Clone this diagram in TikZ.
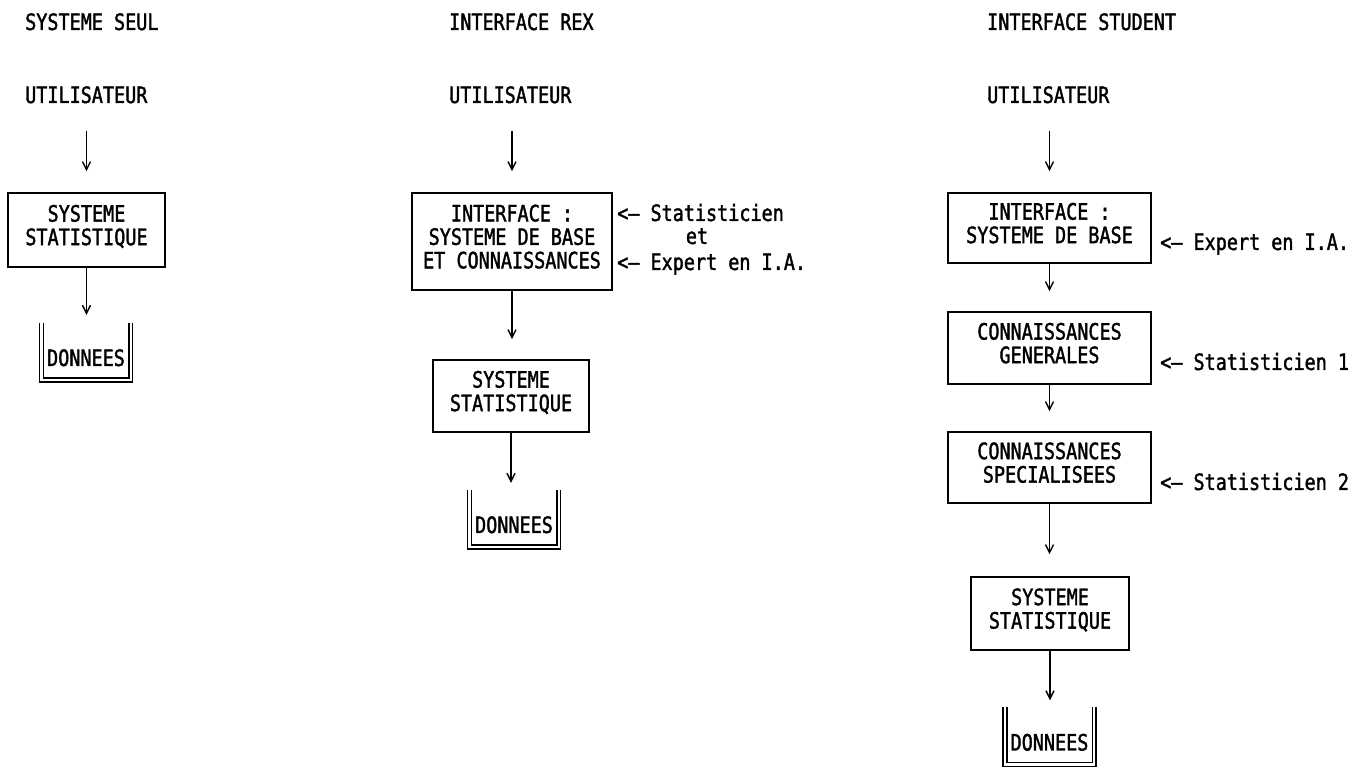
\documentclass[tikz,border=0pt]{standalone}
\usepackage{fontspec}
\newfontfamily\dotfont[FakeStretch=0.82, FakeBold=1.6]{DejaVu Sans Mono}
\usetikzlibrary{arrows.meta,calc}

\begin{document}
\begin{tikzpicture}[x=1pt,y=1pt,
  every node/.style={font=\dotfont\fontsize{22.5}{23.5}\selectfont, inner sep=0pt},
  lbl/.style={anchor=base west},
  box/.style={draw, line width=1.7pt, align=center, text depth=10pt},
  store/.style={minimum width=89pt, minimum height=57pt, text height=29pt, text depth=0pt},
  wall/.style={double, double distance=2.4pt, line width=1.5pt},
  flow/.style={line width=1.4pt, -{Straight Barb[length=8pt,width=8pt,line width=1.4pt]}},
]
\useasboundingbox (0,0) rectangle (1362,773);

% ---- Column 1: statistical system alone
\node[lbl] (h1) at (25,743) {SYSTEME SEUL};
\node[lbl] (u1) at (25,670) {UTILISATEUR};
\node[box, minimum width=157pt, minimum height=74pt] (s1) at (86.5,543) {SYSTEME\\STATISTIQUE};
\node[store] (d1) at (86,421.5) {DONNEES};
\draw[wall] (d1.north west) -- (d1.south west) -- (d1.south east) -- (d1.north east);
\draw[flow, shorten <=27pt, shorten >=21pt] (u1.south -| s1.north) -- (s1.north);
\draw[flow, shorten >=8pt] (s1.south) -- (s1.south |- d1.north);

% ---- Column 2: REX interface
\node[lbl] (h2) at (449,743) {INTERFACE REX};
\node[lbl] (u2) at (449,670) {UTILISATEUR};
\node[box, minimum width=200pt, minimum height=97pt] (b21) at (512,531.5)
  {INTERFACE :\\SYSTEME DE BASE\\ET CONNAISSANCES};
\node[box, minimum width=156pt, minimum height=72pt] (b22) at (511,377) {SYSTEME\\STATISTIQUE};
\node[store] (d2) at (514,254.5) {DONNEES};
\draw[wall] (d2.north west) -- (d2.south west) -- (d2.south east) -- (d2.north east);
\node[lbl] (l21) at (617,552) {<– Statisticien};
\node[anchor=base] (l22) at (697,529) {et};
\node[lbl] (l23) at (617,503) {<– Expert en I.A.};
\draw[flow, shorten <=27pt, shorten >=21pt] (u2.south -| b21.north) -- (b21.north);
\draw[flow, shorten >=20pt] (b21.south) -- (b21.south |- b22.north);
\draw[flow, shorten >=7pt] (b22.south) -- (b22.south |- d2.north);

% ---- Column 3: STUDENT interface
\node[lbl] (h3) at (987,743) {INTERFACE STUDENT};
\node[lbl] (u3) at (987,670) {UTILISATEUR};
\node[box, minimum width=203pt, minimum height=70pt] (c1) at (1049.5,545) {INTERFACE :\\SYSTEME DE BASE};
\node[box, minimum width=203pt, minimum height=72pt] (c2) at (1049.5,425) {CONNAISSANCES\\GENERALES};
\node[box, minimum width=203pt, minimum height=71pt] (c3) at (1049.5,305.5) {CONNAISSANCES\\SPECIALISEES};
\node[box, minimum width=158pt, minimum height=73pt] (c4) at (1050,159.5) {SYSTEME\\STATISTIQUE};
\node[store] (d3) at (1049.5,37) {DONNEES};
\draw[wall] (d3.north west) -- (d3.south west) -- (d3.south east) -- (d3.north east);
\node[lbl] (l31) at (1160,523) {<– Expert en I.A.};
\node[lbl] (l32) at (1160,403) {<– Statisticien 1};
\node[lbl] (l33) at (1160,283) {<– Statisticien 2};
\draw[flow, shorten <=27pt, shorten >=21pt] (u3.south -| c1.north) -- (c1.north);
\draw[flow, shorten >=20pt] (c1.south) -- (c2.north);
\draw[flow, shorten >=20pt] (c2.south) -- (c3.north);
\draw[flow, shorten >=22pt] (c3.south) -- (c3.south |- c4.north);
\draw[flow, shorten >=7pt] (c4.south) -- (c4.south |- d3.north);
\end{tikzpicture}
\end{document}
